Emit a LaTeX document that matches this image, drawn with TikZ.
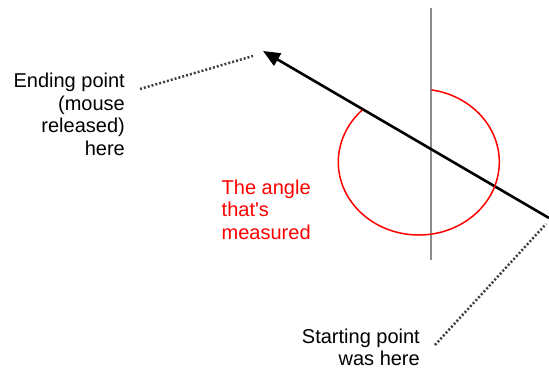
\documentclass[tikz,border=0pt]{standalone}
\usepackage{fontspec}
\setmainfont{Liberation Sans}
\usetikzlibrary{arrows.meta}
\tikzset{note/.style={inner sep=0pt,font=\fontsize{20}{22.5}\selectfont},
  dotline/.style={line width=2.5pt,dash pattern=on 2pt off 2pt,black!75}}
\begin{document}
\begin{tikzpicture}[x=1pt,y=-1pt]
\useasboundingbox (0,0) rectangle (549,379);

%%%%%%%%%%%%% reference line and drag
\coordinate (vtop) at (430.7,8);\coordinate (vbot) at (430.7,260);
\draw[black!45,line width=2pt] (vtop) to (vbot);
\coordinate (start) at (549,218);\coordinate (finish) at (263,51);
\draw[line width=2.6pt,-{Triangle[length=17pt,width=14pt]}] (start) to (finish);

%%%%%%%%%%%%% measured angle
\coordinate (mid) at (418.8,162);
\draw[red,line width=1.5pt] (mid) ++(-81:80.5 and 73) arc[start angle=-81,end angle=225.5,x radius=80.5,y radius=73];
\node[note,red,align=left,anchor=base west] (angtxt) at (221.5,239.5) {The angle\\that\textquotesingle s\\measured};

%%%%%%%%%%%%% labels
\node[note,align=right,anchor=base east] (endtxt) at (125,155.5) {Ending point\\(mouse\\released)\\here};
\coordinate (e1) at (140,89);\coordinate (e2) at (253,56);
\draw[dotline] (e1) to (e2);
\node[note,align=right,anchor=base east] (starttxt) at (420,366) {Starting point\\was here};
\coordinate (s1) at (435,345);\coordinate (s2) at (546,224);
\draw[dotline] (s1) to (s2);

\end{tikzpicture}
\end{document}
